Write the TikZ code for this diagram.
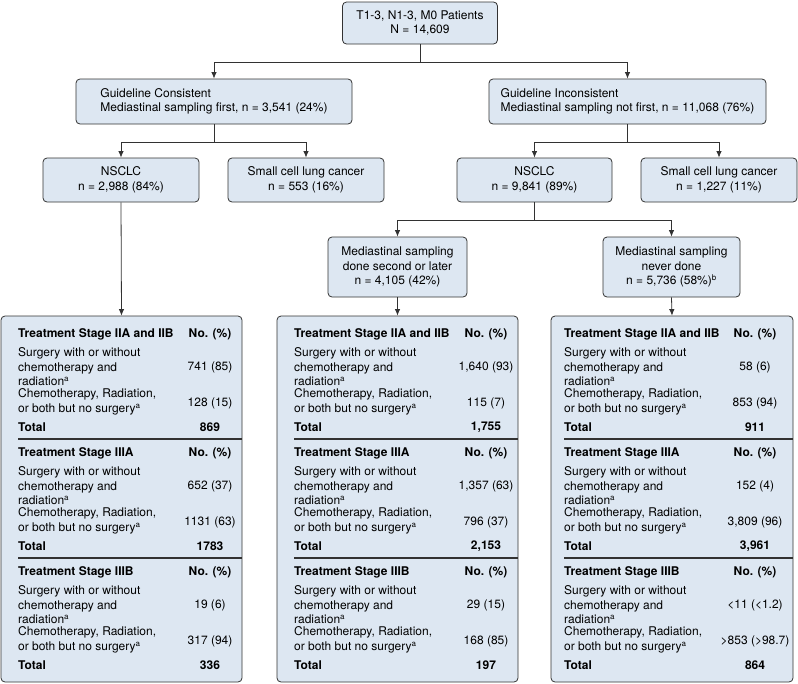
\documentclass[tikz,border=0pt]{standalone}
\usepackage{fontspec}
\setmainfont{TeX Gyre Heros}
\usetikzlibrary{arrows.meta,positioning}

\definecolor{boxfill}{RGB}{221,231,242}
\definecolor{boxline}{RGB}{50,50,50}
\newcommand{\basefont}{\fontsize{12}{14.5}\selectfont}

\tikzset{
  flowbox/.style={draw=boxline, fill=boxfill, rounded corners=4pt, line width=0.8pt,
    align=center, inner sep=0pt, font=\basefont},
  link/.style={draw=boxline, line width=0.8pt, -{Latex[length=6.5pt,width=5.5pt]}},
  celltext/.style={anchor=west, align=left, inner sep=0pt, font=\basefont},
  valtext/.style={inner sep=0pt, font=\basefont},
  sepline/.style={draw=boxline, line width=1.3pt},
}

% one stage block of a treatment table
% #1 name, #2 text x, #3 value x, #4 header y, #5 stage, #6 surgery, #7 no surgery, #8 total
\newcommand{\stageblock}[8]{%
  \node[celltext, font=\basefont\bfseries] (#1-head) at (#2,#4) {Treatment Stage #5};
  \node[valtext, font=\basefont\bfseries] (#1-no) at (#3,#4) {No. (\%)};
  \node[celltext] (#1-surg) at (#2,#4+33) {Surgery with or without\\chemotherapy and\\radiation\textsuperscript{a}};
  \node[valtext] (#1-surgval) at (#3,#4+33) {#6};
  \node[celltext] (#1-chemo) at (#2,#4+68) {Chemotherapy, Radiation,\\or both but no surgery\textsuperscript{a}};
  \node[valtext] (#1-chemoval) at (#3,#4+69) {#7};
  \node[celltext, font=\basefont\bfseries] (#1-total) at (#2,#4+93) {Total};
  \node[valtext, font=\basefont\bfseries] (#1-totalval) at (#3,#4+93) {#8};
}

\begin{document}
\begin{tikzpicture}[x=1pt, y=-1pt]
    \useasboundingbox (0,0) rectangle (798,683);
    % Patients and guideline split
    \node[flowbox, minimum width=155pt, minimum height=42pt] (patients) at (420,23) {T1-3, N1-3, M0 Patients\\N = 14,609};
    \node[flowbox, align=left, minimum width=276pt, minimum height=45pt] (gcons) at (214,101.5)
        {Guideline Consistent\\Mediastinal sampling first, n = 3,541 (24\%)};
    \node[flowbox, align=left, minimum width=277pt, minimum height=45pt] (gincons) at (627.5,101.5)
        {Guideline Inconsistent\\Mediastinal sampling not first, n = 11,068 (76\%)};
    % Histology
    \node[flowbox, minimum width=156pt, minimum height=44pt] (nsclcA) at (121,180) {NSCLC\\n = 2,988 (84\%)};
    \node[flowbox, minimum width=156pt, minimum height=44pt] (sclcA) at (306,180) {Small cell lung cancer\\n = 553 (16\%)};
    \node[flowbox, minimum width=155pt, minimum height=44pt] (nsclcB) at (534.5,180) {NSCLC\\n = 9,841 (89\%)};
    \node[flowbox, minimum width=156pt, minimum height=44pt] (sclcB) at (719,180) {Small cell lung cancer\\n = 1,227 (11\%)};
    % Sampling later or never
    \node[flowbox, minimum width=139pt, minimum height=60pt] (medA) at (397.5,267)
        {Mediastinal sampling\\done second or later\\n = 4,105 (42\%)};
    \node[flowbox, minimum width=137pt, minimum height=60pt] (medB) at (671.5,267)
        {Mediastinal sampling\\never done\\n = 5,736 (58\%)\textsuperscript{b}};
    % Treatment tables
    \node[flowbox, minimum width=241pt, minimum height=366pt] (tabA) at (121.5,499) {};
    \node[flowbox, minimum width=241pt, minimum height=366pt] (tabB) at (397.5,499) {};
    \node[flowbox, minimum width=242pt, minimum height=366pt] (tabC) at (672,499) {};

    % Connectors
    \draw[link] (patients.south) -- ++(0,18) -| (gcons.north);
    \draw[link] (patients.south) -- ++(0,18) -| (gincons.north);
    \draw[link] (gcons.south) -- ++(0,18) -| (nsclcA.north);
    \draw[link] (gcons.south) -- ++(0,18) -| (sclcA.north);
    \draw[link] (gincons.south) -- ++(0,18) -| (nsclcB.north);
    \draw[link] (gincons.south) -- ++(0,18) -| (sclcB.north);
    \draw[link] (nsclcB.south) -- ++(0,18) -| (medA.north);
    \draw[link] (nsclcB.south) -- ++(0,18) -| (medB.north);
    \draw[link] (nsclcA.south) -- (tabA.north);
    \draw[link] (medA.south) -- (tabB.north);
    \draw[link] (medB.south) -- (tabC.north);

    % Table contents
    \stageblock{a1}{18}{210}{334}{IIA and IIB}{741 (85)}{128 (15)}{869}
    \stageblock{a2}{18}{210}{453}{IIIA}{652 (37)}{1131 (63)}{1783}
    \stageblock{a3}{18}{210}{572}{IIIB}{19 (6)}{317 (94)}{336}
    \stageblock{b1}{294}{486}{334}{IIA and IIB}{1,640 (93)}{115 (7)}{1,755}
    \stageblock{b2}{294}{486}{453}{IIIA}{1,357 (63)}{796 (37)}{2,153}
    \stageblock{b3}{294}{486}{572}{IIIB}{29 (15)}{168 (85)}{197}
    \stageblock{c1}{564}{755}{334}{IIA and IIB}{58 (6)}{853 (94)}{911}
    \stageblock{c2}{564}{755}{453}{IIIA}{152 (4)}{3,809 (96)}{3,961}
    \stageblock{c3}{564}{755}{572}{IIIB}{<11 (<1.2)}{>853 (>98.7)}{864}
    \foreach \y in {439,558} {
        \draw[sepline] (18,\y) -- (tabA.east |- 0,\y);
        \draw[sepline] (294,\y) -- (tabB.east |- 0,\y);
        \draw[sepline] (564,\y) -- (tabC.east |- 0,\y);
    }
\end{tikzpicture}
\end{document}
